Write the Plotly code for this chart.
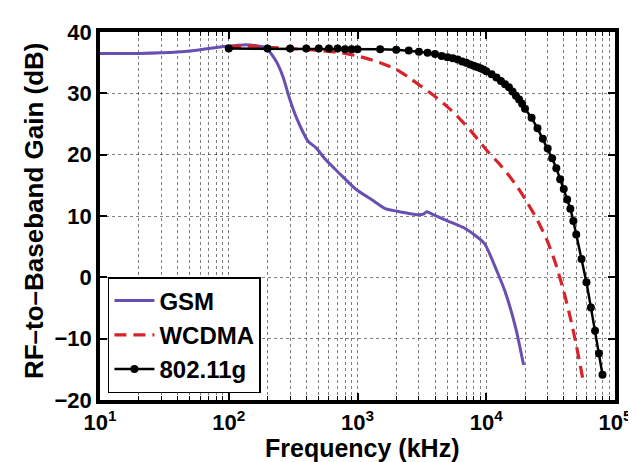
import plotly.graph_objects as go

# ---------------- data ----------------
gsm_freq = [10, 20, 30, 50, 70, 100, 130, 160, 195, 234, 265, 294, 333, 381, 413,
            477, 565, 711, 966, 1300, 1640, 2000, 2500, 3000, 3250, 3450, 3800,
            4200, 5000, 6800, 8000, 9700, 12000, 14000, 17000, 19500]
gsm_gain = [36.5, 36.5, 36.6, 36.9, 37.3, 37.7, 37.9, 37.8, 37.4, 35.2, 32.6, 29.4,
            26.2, 23.5, 22.2, 21.1, 19.2, 17.1, 14.4, 12.6, 11.2, 10.8, 10.4, 10.2,
            10.3, 10.7, 10.3, 9.9, 9.2, 8.0, 7.0, 5.5, 1.2, -2.3, -8.4, -14.3]

wcdma_freq = [100, 150, 200, 300, 500, 700, 1000, 1500, 2000, 2500, 3000, 4000, 5000,
              6000, 7500, 10000, 12500, 15000, 17500, 20000, 25000, 30000, 35000,
              40000, 45000, 50000, 57000]
wcdma_gain = [37.6, 37.7, 37.5, 37.3, 37.0, 36.7, 36.1, 35.0, 33.9, 32.6, 31.4, 29.5,
              27.8, 26.2, 24.0, 20.8, 18.6, 16.6, 14.7, 12.8, 9.3, 5.8, 1.9, -2.3,
              -6.6, -11.0, -17.2]

wlan_freq = [100, 200, 300, 400, 500, 600, 700, 800, 900, 1000,
             1500, 2000, 2500, 3000, 3500, 4000, 4500, 5000, 5500, 6000, 6500, 7000,
             7500, 8000, 8500, 9000, 9500, 10000,
             11000, 12000, 13000, 14000, 15000, 16000, 17000, 18000, 19000, 20000,
             22500, 25000, 27500, 30000, 32500, 35000, 37500, 40000, 42500, 45000,
             47500, 50000, 55000, 60000, 65000, 70000, 75000, 80000]
wlan_gain = [37.3, 37.3, 37.3, 37.3, 37.3, 37.3, 37.3, 37.2, 37.2, 37.2,
             37.2, 37.1, 37.0, 36.8, 36.6, 36.4, 36.1, 35.9, 35.7, 35.5, 35.2, 35.0,
             34.7, 34.5, 34.3, 34.1, 33.9, 33.6,
             33.1, 32.6, 32.0, 31.5, 31.0, 30.3, 29.6, 29.0, 28.3, 27.5,
             26.0, 24.3, 22.6, 21.0, 19.4, 17.8, 16.0, 14.4, 12.7, 11.2,
             9.2, 7.0, 3.0, -0.8, -4.9, -8.7, -12.4, -15.9]

x_tickvals = [10, 100, 1000, 10000, 100000]
x_ticktext = ["10<sup>1</sup>", "10<sup>2</sup>", "10<sup>3</sup>", "10<sup>4</sup>", "10<sup>5</sup>"]
y_tickvals = [-20, -10, 0, 10, 20, 30, 40]

# minor (unlabelled) log positions 2..9 within each decade
x_minor = [d * v for v in x_tickvals[:-1] for d in range(2, 10)]

# ---------------- figure ----------------
FONT = "Liberation Sans, Arial, sans-serif"
GRID = "rgba(0,0,0,0.5)"

fig = go.Figure()
fig.add_trace(go.Scatter(x=gsm_freq, y=gsm_gain, mode="lines", name="GSM",
                         line=dict(color="#6a4fb3", width=3, shape="spline", smoothing=0.6)))
fig.add_trace(go.Scatter(x=wcdma_freq, y=wcdma_gain, mode="lines", name="WCDMA",
                         line=dict(color="#d8232a", width=3.2, dash="12px,7px",
                                   shape="spline", smoothing=0.6)))
fig.add_trace(go.Scatter(x=wlan_freq, y=wlan_gain, mode="lines+markers", name="802.11g",
                         line=dict(color="black", width=2.5),
                         marker=dict(color="black", size=8, symbol="circle")))

fig.update_layout(
    width=636, height=462,
    margin=dict(l=92, r=24, t=17, b=70),
    paper_bgcolor="white", plot_bgcolor="white",
    font=dict(family=FONT, color="black"),
    showlegend=True,
    legend=dict(x=0.0154, y=0.019, xanchor="left", yanchor="bottom",
                bgcolor="white", bordercolor="black", borderwidth=1.5,
                font=dict(family=FONT, size=24, color="black", weight="bold"),
                tracegroupgap=0, itemwidth=40),
    annotations=[
        dict(text="<b>Frequency (kHz)</b>", xref="paper", yref="paper",
             x=0.508, y=-0.131, xanchor="center", yanchor="middle", showarrow=False,
             borderpad=0, font=dict(family=FONT, size=25, color="black")),
        dict(text="<b>RF\u2013to\u2013Baseband Gain (dB)</b>", xref="paper", yref="paper",
             x=-0.127, y=0.515, xanchor="center", yanchor="middle", showarrow=False,
             textangle=-90, font=dict(family=FONT, size=26, color="black")),
    ],
)

fig.update_xaxes(
    type="log", range=[1, 5],
    tickmode="array", tickvals=x_tickvals, ticktext=x_ticktext,
    tickfont=dict(family=FONT, size=22, color="black", weight="bold"),
    ticks="inside", ticklen=7, tickwidth=1.5, tickcolor="black",
    showline=True, linecolor="black", linewidth=3.5, mirror="ticks",
    showgrid=True, gridcolor=GRID, gridwidth=1, griddash="dot",
    minor=dict(tickmode="array", tickvals=x_minor, ticks="inside", ticklen=4,
               tickcolor="black", tickwidth=1, showgrid=True,
               gridcolor=GRID, gridwidth=1, griddash="dot"),
    zeroline=False,
)
fig.update_yaxes(
    range=[-20, 40], tickvals=y_tickvals,
    tickfont=dict(family=FONT, size=22, color="black", weight="bold"),
    ticks="inside", ticklen=7, tickwidth=1.5, tickcolor="black",
    showline=True, linecolor="black", linewidth=3.5, mirror="ticks",
    showgrid=True, gridcolor=GRID, gridwidth=1, griddash="dot",
    zeroline=False,
)

fig.write_html("out.html")
